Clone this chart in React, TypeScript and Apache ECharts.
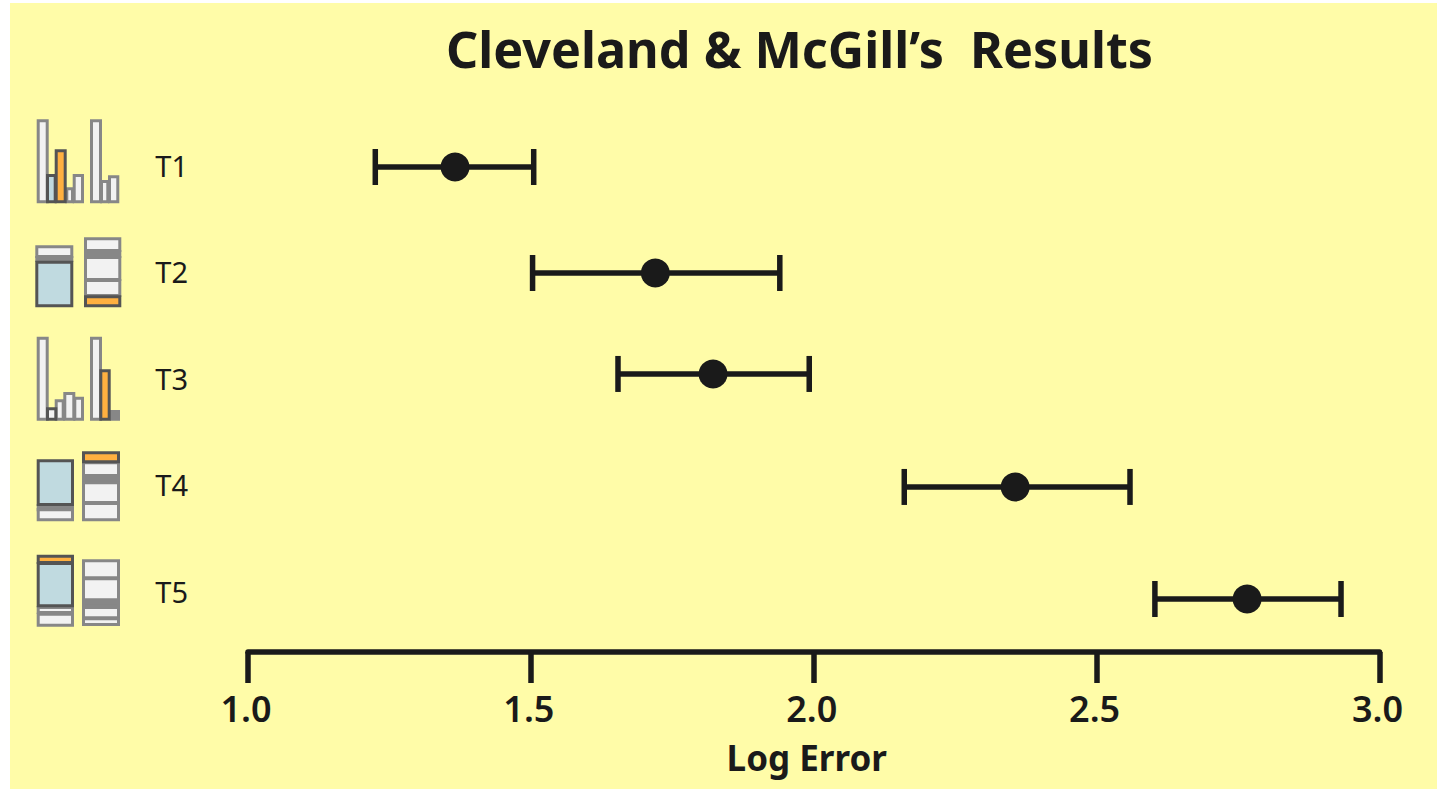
import React, { useEffect, useRef } from "react";
import * as echarts from "echarts";

const categories = ["T1", "T2", "T3", "T4", "T5"];
const lower = [1.225, 1.503, 1.654, 2.16, 2.603];
const means = [1.366, 1.72, 1.822, 2.356, 2.766];
const upper = [1.505, 1.94, 1.992, 2.559, 2.932];
const rowPosition = [0.519, 1.514, 2.462, 3.523, 4.575];
const xTicks = ["1.0", "1.5", "2.0", "2.5", "3.0"];

const FONT = '"Noto Sans", "Open Sans", sans-serif';
const INK = "#1a1a1a";
const PAPER = "#fffca8";
const GRAY = "#878787";
const DARK = "#545454";
const WHITE = "#f2f2f2";
const BLUE = "#c0dae0";
const ORANGE = "#ffb040";

type Box = [number, number, number, number, string, string];
// Decorative task icons: outer edges x0, y0, x1, y1 in page pixels.
const iconBoxes: Box[] = [
  // T1
  [36.7, 119.3, 48.7, 203.3, WHITE, GRAY],
  [65.3, 187.3, 74, 203.3, WHITE, GRAY],
  [72.7, 174, 84, 203.3, WHITE, GRAY],
  [46, 174, 56.7, 203.3, BLUE, DARK],
  [54.7, 149.3, 66.7, 203.3, ORANGE, DARK],
  [90, 119.3, 102, 203.3, WHITE, GRAY],
  [100, 180, 109.3, 203.3, WHITE, GRAY],
  [108, 175.3, 119.3, 203.3, WHITE, GRAY],
  // T2
  [35.3, 245.3, 73.3, 258, WHITE, GRAY],
  [35.3, 256, 73.3, 262, GRAY, GRAY],
  [35.3, 260.7, 73.3, 307.3, BLUE, DARK],
  [84, 237.3, 121.3, 252, WHITE, GRAY],
  [84, 250, 121.3, 258, GRAY, GRAY],
  [84, 256, 121.3, 281, WHITE, GRAY],
  [84, 279, 121.3, 297, WHITE, GRAY],
  [84, 295.3, 121.3, 307.3, ORANGE, DARK],
  // T3
  [36.7, 336.7, 48.7, 420.7, WHITE, GRAY],
  [54.7, 399.3, 64.7, 420.7, WHITE, GRAY],
  [63.3, 392, 75.3, 420.7, WHITE, GRAY],
  [73.3, 396.7, 84, 420.7, WHITE, GRAY],
  [46, 407.3, 57.3, 420.7, WHITE, DARK],
  [90, 336.7, 102, 420.7, WHITE, GRAY],
  [110, 410, 120, 420.7, GRAY, GRAY],
  [99.3, 369.3, 110.7, 420.7, ORANGE, DARK],
  // T4
  [36.7, 508, 74, 521.3, WHITE, GRAY],
  [36.7, 504, 74, 511.3, GRAY, GRAY],
  [36.7, 459.3, 74, 506, BLUE, DARK],
  [82, 461.3, 120, 477, WHITE, GRAY],
  [82, 475, 120, 483.3, GRAY, GRAY],
  [82, 481.3, 120, 504, WHITE, GRAY],
  [82, 502, 120, 521.3, WHITE, GRAY],
  [82, 451.3, 120, 463.3, ORANGE, DARK],
  // T5
  [36.7, 612.7, 74, 626.7, WHITE, GRAY],
  [36.7, 606, 74, 614, WHITE, GRAY],
  [36.7, 562, 74, 607.3, BLUE, DARK],
  [36.7, 554.7, 74, 564, ORANGE, DARK],
  [82, 559.3, 120, 579.3, WHITE, GRAY],
  [82, 577.3, 120, 601.3, WHITE, GRAY],
  [82, 600, 120, 607.3, GRAY, GRAY],
  [82, 606, 120, 619.3, WHITE, GRAY],
  [82, 617.3, 120, 626, WHITE, GRAY],
];

const W = 1437;
const H = 789;

export default function App() {
  const ref = useRef<HTMLDivElement>(null);
  useEffect(() => {
    const chart = echarts.init(ref.current!, undefined, { renderer: "svg" });
    const rows = categories.map((_, i) => [lower[i], means[i], upper[i], rowPosition[i]]);
    chart.setOption({
      animation: false,
      backgroundColor: "transparent",
      title: {
        text: "Cleveland & McGill\u2019s  Results",
        left: 794.5,
        top: 18,
        textAlign: "center",
        textStyle: { fontFamily: FONT, fontSize: 50.3, fontWeight: 700, color: INK },
      },
      graphic: [
        { type: "rect", z: -10, silent: true, shape: { x: 10, y: 3, width: W - 10, height: H - 3 }, style: { fill: PAPER } },
        ...iconBoxes.map(([x0, y0, x1, y1, fill, stroke]) => ({
          type: "rect",
          silent: true,
          shape: { x: x0 + 1.5, y: y0 + 1.5, width: x1 - x0 - 3, height: y1 - y0 - 3 },
          style: { fill, stroke, lineWidth: 3 },
        })),
      ],
      grid: { left: 248, right: W - 1379.5, top: 111.75, bottom: H - 644.25, containLabel: false },
      xAxis: {
        type: "value",
        position: "bottom",
        min: 1,
        max: 3,
        interval: 0.5,
        offset: 7.75,
        name: "Log Error",
        nameLocation: "middle",
        nameGap: 88,
        nameTextStyle: { fontFamily: FONT, fontSize: 35, fontWeight: 700, color: INK, padding: [0, 14, 0, 0] },
        axisLine: { show: true, onZero: false, lineStyle: { color: INK, width: 5.5 } },
        axisTick: { show: true, length: 31, lineStyle: { color: INK, width: 5.5 } },
        splitLine: { show: false },
        axisLabel: {
          margin: 38,
          fontFamily: FONT,
          fontSize: 36,
          fontWeight: 600,
          color: INK,
          padding: [0, 4, 0, 0],
          formatter: (v: number) => xTicks[Math.round((v - 1) / 0.5)],
        },
      },
      yAxis: [
        {
          type: "category",
          data: categories,
          inverse: true,
          axisLine: { show: false },
          axisTick: { show: false },
          axisLabel: { margin: 60, fontFamily: FONT, fontSize: 29, color: INK, align: "right" },
        },
        { type: "value", min: 0, max: 5, inverse: true, show: false },
      ],
      series: [
        {
          type: "custom",
          yAxisIndex: 1,
          data: rows,
          encode: { x: [0, 2], y: 3 },
          clip: false,
          renderItem: (_: unknown, api: any) => {
            const lo = api.coord([api.value(0), api.value(3)]);
            const hi = api.coord([api.value(2), api.value(3)]);
            const s = { stroke: INK, lineWidth: 5.5, fill: "none" };
            const cap = 18;
            return {
              type: "group",
              children: [
                { type: "line", shape: { x1: lo[0], y1: lo[1], x2: hi[0], y2: hi[1] }, style: s },
                { type: "line", shape: { x1: lo[0], y1: lo[1] - cap, x2: lo[0], y2: lo[1] + cap }, style: s },
                { type: "line", shape: { x1: hi[0], y1: hi[1] - cap, x2: hi[0], y2: hi[1] + cap }, style: s },
              ],
            };
          },
        },
        {
          type: "scatter",
          yAxisIndex: 1,
          symbol: "circle",
          symbolSize: 29,
          itemStyle: { color: INK, opacity: 1 },
          data: means.map((m, i) => [m, rowPosition[i]]),
          z: 5,
        },
      ],
    });
    return () => chart.dispose();
  }, []);
  return <div ref={ref} style={{ position: "absolute", left: 0, top: 0, width: W, height: H, background: "#fff" }} />;
}
